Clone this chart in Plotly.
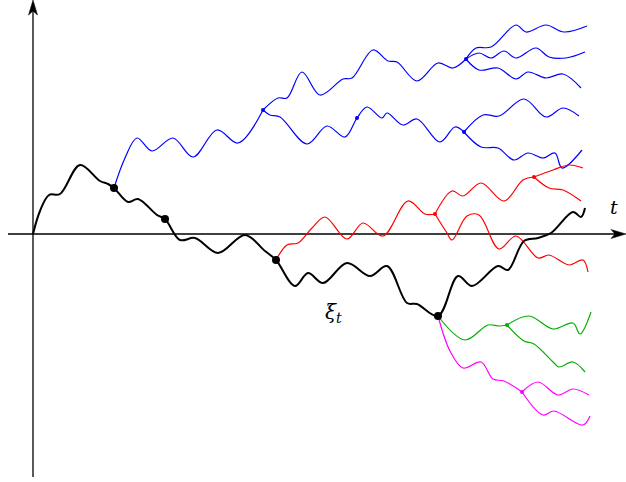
import plotly.graph_objects as go

# Branching paths: each branch is a list of (t, xi) points starting at its parent's split point.
main_path = [(0, 0), (7, 23), (16, 39), (27, 40), (47, 69), (67, 53), (75, 50), (81, 46),
             (95, 32), (105, 35), (124, 19), (132, 15), (147, -6), (162, -4), (185, -19),
             (212, -1), (232, -17), (243, -26), (262, -52), (275, -39), (290, -49),
             (314, -29), (337, -42), (354, -32), (374, -69), (384, -70), (405, -82),
             (425, -42), (439, -52), (465, -32), (475, -36), (491, -7), (505, -4),
             (518, 1), (540, 22), (548, 17), (552, 26)]

blue_trunk = [(81, 46), (92, 76), (104, 96), (119, 83), (140, 96), (160, 77), (184, 104),
              (205, 91), (230, 124)]
blue_upper = [(230, 124), (245, 136), (254, 136), (269, 162), (287, 139), (310, 155),
              (319, 156), (340, 184), (355, 173), (364, 172), (384, 153), (405, 171),
              (420, 166), (433, 175)]
blue_upper_a = [(433, 175), (443, 186), (458, 187), (483, 209), (493, 202), (513, 209),
                (531, 202), (554, 208)]
blue_upper_b = [(433, 175), (446, 181), (458, 176), (471, 183), (483, 176), (503, 186),
                (516, 177), (533, 176), (552, 182)]
blue_upper_c = [(433, 175), (446, 164), (465, 166), (483, 155), (495, 162), (513, 156),
                (530, 160), (548, 146)]
blue_lower = [(230, 124), (237, 119), (247, 117), (274, 90), (294, 108), (312, 97),
              (324, 116), (334, 127), (349, 116), (354, 121), (370, 109), (384, 115),
              (407, 92), (422, 107), (431, 102)]
blue_lower_a = [(431, 102), (450, 119), (466, 118), (491, 135), (513, 117), (530, 126),
                (546, 118)]
blue_lower_b = [(431, 102), (448, 87), (465, 86), (481, 74), (495, 81), (510, 76),
                (522, 81), (529, 66), (549, 84)]

red_trunk = [(243, -26), (254, -11), (265, -9), (279, 6), (292, 17), (314, -5), (330, 11),
             (350, -2), (375, 33), (392, 20), (402, 20)]
red_upper = [(402, 20), (419, 43), (430, 38), (448, 51), (471, 33), (490, 54), (501, 57)]
red_lower = [(402, 20), (414, 1), (419, -6), (434, 18), (446, 19), (466, -15), (483, -2),
             (505, -24), (516, -21), (536, -31), (550, -26), (555, -38)]
red_upper_a = [(501, 57), (520, 64), (536, 69), (550, 66)]
red_upper_b = [(501, 57), (516, 46), (530, 44), (548, 33)]

green_trunk = [(405, -82), (432, -106), (455, -91), (466, -92), (474, -91)]
green_a = [(474, -91), (496, -82), (520, -95), (540, -89), (547, -100), (558, -78)]
green_b = [(474, -91), (491, -107), (501, -110), (521, -129), (526, -133), (540, -128),
           (552, -138)]

magenta_trunk = [(405, -82), (417, -117), (430, -134), (448, -128), (460, -145),
                 (471, -147), (489, -158)]
magenta_a = [(489, -158), (505, -148), (525, -161), (540, -155), (556, -161)]
magenta_b = [(489, -158), (510, -181), (521, -177), (550, -191), (557, -182)]

# Split points
black_nodes = [(81, 46), (132, 15), (243, -26), (405, -82)]
blue_nodes = [(230, 124), (433, 175), (431, 102), (324, 116)]
red_nodes = [(402, 20), (501, 57)]
green_nodes = [(474, -91)]
magenta_nodes = [(489, -158)]

# Axis extents (t axis and xi axis)
t_axis = (-25, 593)
xi_axis = (-243, 234)

BLUE = "#0000ff"
RED = "#ff0000"
GREEN = "#00b000"
MAGENTA = "#ff00ff"
SERIF = "DejaVu Serif"

fig = go.Figure()


def add_path(pts, color, width):
    fig.add_trace(go.Scatter(
        x=[p[0] for p in pts], y=[p[1] for p in pts], mode="lines",
        line=dict(color=color, width=width, shape="spline", smoothing=1.0),
        hoverinfo="skip", showlegend=False))


def add_nodes(pts, color, size):
    fig.add_trace(go.Scatter(
        x=[p[0] for p in pts], y=[p[1] for p in pts], mode="markers",
        marker=dict(color=color, size=size, line=dict(width=0)),
        hoverinfo="skip", showlegend=False))


for branch in [blue_trunk, blue_upper, blue_upper_a, blue_upper_b, blue_upper_c,
               blue_lower, blue_lower_a, blue_lower_b]:
    add_path(branch, BLUE, 1.2)
for branch in [red_trunk, red_upper, red_lower, red_upper_a, red_upper_b]:
    add_path(branch, RED, 1.2)
for branch in [green_trunk, green_a, green_b]:
    add_path(branch, GREEN, 1.2)
for branch in [magenta_trunk, magenta_a, magenta_b]:
    add_path(branch, MAGENTA, 1.2)
add_path(main_path, "black", 2)

add_nodes(blue_nodes, BLUE, 4)
add_nodes(red_nodes, RED, 4)
add_nodes(green_nodes, GREEN, 4)
add_nodes(magenta_nodes, MAGENTA, 4)
add_nodes(black_nodes, "black", 8)

# Axis lines with stealth-style arrowheads
t0, t1 = t_axis
x0, x1 = xi_axis
fig.add_shape(type="line", x0=t0, y0=0, x1=t1 - 4, y1=0,
              line=dict(color="black", width=1.3), layer="below")
fig.add_shape(type="line", x0=0, y0=x0, x1=0, y1=x1 - 4,
              line=dict(color="black", width=1.3), layer="below")
fig.add_shape(type="path",
              path=f"M {t1} 0 L {t1 - 15} 4.5 L {t1 - 11} 0 L {t1 - 15} -4.5 Z",
              fillcolor="black", line=dict(color="black", width=0.5))
fig.add_shape(type="path",
              path=f"M 0 {x1} L 4.5 {x1 - 15} L 0 {x1 - 11} L -4.5 {x1 - 15} Z",
              fillcolor="black", line=dict(color="black", width=0.5))

fig.add_annotation(x=581, y=27, text="t", showarrow=False,
                   font=dict(family=SERIF, size=19, color="black", style="italic"))
fig.add_annotation(x=300, y=-79, text="ξ<sub>t</sub>", showarrow=False,
                   font=dict(family=SERIF, size=20, color="black", style="italic"))

fig.update_layout(
    width=626, height=482, margin=dict(l=0, r=0, t=0, b=0),
    paper_bgcolor="white", plot_bgcolor="white",
    xaxis=dict(range=[-33, 593], visible=False, fixedrange=True),
    yaxis=dict(range=[-248, 234], visible=False, fixedrange=True),
)

fig.write_html("out.html")
